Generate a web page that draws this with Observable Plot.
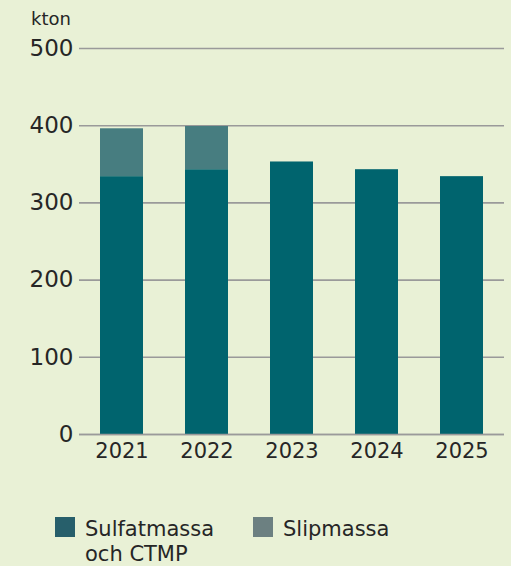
<!DOCTYPE html>
<html>
<head>
<meta charset="utf-8">
<script src="https://cdn.jsdelivr.net/npm/d3@7"></script>
<script src="https://cdn.jsdelivr.net/npm/@observablehq/plot@0.6"></script>
<style>
  html, body { margin: 0; padding: 0; background: #e9f1d6; }
  #wrap { position: relative; width: 511px; height: 566px; font-family: "DejaVu Sans", sans-serif; color: #262626; }
  #unit { position: absolute; left: 31px; top: 9px; font-size: 18px; line-height: 20px; }
  #legend { position: absolute; left: 55px; top: 517px; display: flex; font-size: 21px; line-height: 25px; }
  .item { display: flex; align-items: flex-start; }
  .sw { width: 20px; height: 20px; margin-right: 10px; flex: none; }
</style>
</head>
<body>
<div id="wrap">
  <div id="chart"></div>
  <div id="unit">kton</div>
  <div id="legend"></div>
</div>
<script>
const years = ["2021", "2022", "2023", "2024", "2025"];
const series = ["Sulfatmassa och CTMP", "Slipmassa"];
const sulfatmassa = [334, 343, 353, 343, 334];
const slipmassa = [62, 56, 0, 0, 0];
const yTicks = [0, 100, 200, 300, 400, 500];
const barColors = ["#00646e", "#477d80"];
const swatchColors = ["#275f6b", "#6c8081"];

const data = [];
years.forEach((yr, i) => data.push({year: yr, series: series[0], value: sulfatmassa[i]}));
years.forEach((yr, i) => data.push({year: yr, series: series[1], value: slipmassa[i]}));

const chart = Plot.plot({
  width: 511,
  height: 480,
  marginLeft: 79,
  marginRight: 7,
  marginTop: 48,
  marginBottom: 46,
  style: {background: "transparent", fontFamily: "DejaVu Sans, sans-serif", fontSize: "21px", color: "#262626"},
  x: {type: "band", domain: years, paddingInner: 0.5, paddingOuter: 0.25, label: null},
  y: {domain: [0, 500], label: null},
  color: {domain: series, range: barColors},
  marks: [
    Plot.gridY(yTicks, {stroke: "#9a9a9a", strokeOpacity: 1, strokeWidth: 1.6}),
    Plot.barY(data, {x: "year", y: "value", fill: "series"}),
    Plot.ruleY([0], {stroke: "#9a9a9a", strokeWidth: 1.6}),
    Plot.axisY(yTicks, {tickSize: 0, tickPadding: 6, label: null, fontSize: 23}),
    Plot.axisX({tickSize: 0, tickPadding: 9, label: null, fontSize: 21})
  ]
});
document.getElementById("chart").appendChild(chart);

const legend = document.getElementById("legend");
const widths = [198, 150];
series.forEach((s, i) => {
  const item = document.createElement("div");
  item.className = "item";
  item.style.width = widths[i] + "px";
  const sw = document.createElement("div");
  sw.className = "sw";
  sw.style.background = swatchColors[i];
  const t = document.createElement("div");
  t.textContent = s;
  t.style.width = "150px";
  item.appendChild(sw);
  item.appendChild(t);
  legend.appendChild(item);
});
</script>
</body>
</html>
